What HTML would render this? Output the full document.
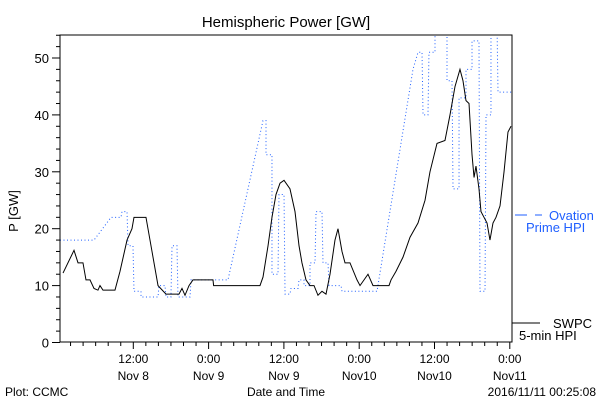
<!DOCTYPE html>
<html><head><meta charset="utf-8"><style>
body{margin:0;background:#fff;}
svg{display:block;font-family:"Liberation Sans",sans-serif;}
</style></head><body>
<svg id="chart" width="600" height="400" viewBox="0 0 600 400" xmlns="http://www.w3.org/2000/svg">
<rect width="600" height="400" fill="#fff"/>
<text x="286" y="27" font-size="15" text-anchor="middle">Hemispheric Power [GW]</text>
<text transform="translate(18,211) rotate(-90)" font-size="13" text-anchor="middle">P [GW]</text>
<text x="286" y="396" font-size="12" text-anchor="middle">Date and Time</text>
<text x="5" y="396" font-size="12">Plot: CCMC</text>
<text x="596" y="396" font-size="12" text-anchor="end">2016/11/11 00:25:08</text>
<g id="axes"></g>
<defs><clipPath id="pc"><rect x="60" y="35" width="452" height="307"/></clipPath></defs>
<g id="series" clip-path="url(#pc)"></g>
<rect x="60" y="35" width="452" height="307" fill="none" stroke="#000" stroke-width="1"/>
<g>
<line x1="515" y1="215" x2="527" y2="215" stroke="#1f5fff" stroke-width="1"/>
<line x1="535" y1="215" x2="542" y2="215" stroke="#1f5fff" stroke-width="1"/>
<text x="549" y="220" font-size="13" fill="#1f5fff">Ovation</text>
<text x="526" y="232" font-size="13" fill="#1f5fff">Prime HPI</text>
</g>
<g>
<line x1="512" y1="323" x2="540" y2="323" stroke="#000" stroke-width="1"/>
<text x="553" y="328" font-size="13">SWPC</text>
<text x="519" y="340" font-size="13">5-min HPI</text>
</g>
</svg>
<script>
const yTicks=[0,10,20,30,40,50];
const xTickHours=[12,24,36,48,60,72];
const xTickTime=["12:00","0:00","12:00","0:00","12:00","0:00"];
const xTickDate=["Nov 8","Nov 9","Nov 9","Nov10","Nov10","Nov11"];
const swpcHours=[0.8,2.55,3.19,3.98,4.46,5.1,5.74,6.37,6.69,7.17,9.08,9.88,11.0,11.79,12.11,14.02,14.98,15.94,17.21,19.28,19.76,20.24,20.88,21.51,22.63,24.7,24.8,32.19,32.67,33.47,34.1,34.74,35.38,36.02,36.97,37.77,38.41,38.88,39.52,40.16,40.8,41.43,42.07,42.71,43.35,44.14,44.62,45.26,45.74,46.53,47.65,48.13,49.4,50.2,52.75,53.07,53.86,54.98,56.1,57.37,58.49,59.28,60.4,61.67,62.47,63.27,64.06,64.54,65.02,65.5,65.98,66.3,66.61,67.09,67.41,67.89,68.37,68.84,69.32,69.8,70.44,71.08,71.71,72.19];
const swpcValues=[12.2,16.2,14,14,11,11,9.5,9.2,10,9.2,9.2,12.5,18,20,22,22,16,10,8.5,8.5,9.5,8.3,10,11,11,11,10,10,11.5,17,22,26,28,28.5,27,23,17,14,11,10,10,8.3,9,8.5,12,18,20,16,14,14,11,10,12,10,10,11,12.5,15,18.5,21,25,30,35,35.5,40,45,48,46,42.5,42,33,29,31,27,23,22,21,18,21,22,24,30,37,38];
const hpiHours=[0.32,5.74,8.45,10.04,10.2,11.0,11.16,11.95,12.11,13.23,13.23,15.94,16.1,17.05,17.21,18.0,18.17,18.96,19.12,21.04,21.2,27.09,32.67,33.15,33.15,34.1,34.1,35.06,35.22,36.02,36.18,36.97,37.13,38.25,38.41,39.2,39.2,40.16,40.16,40.96,41.12,42.07,42.23,43.03,43.19,45.1,45.26,50.84,56.57,57.37,58.01,58.17,58.96,59.12,60.08,60.08,61.99,61.99,62.79,62.95,63.91,63.91,65.02,65.02,65.98,65.98,67.09,67.25,68.05,68.21,69.0,69.0,69.96,70.12,72.35];
const hpiValues=[18,18,22,22,23,23,17,17,9,9,8,8,10,10,8,8,17,17,8,8,11,11,39,39,33,33,12,12,26,26,8.5,8.5,9.5,9.5,11,11,10,10,14,14,23,23,14,14,10,10,9,9,48,51,51,40,40,51,51,56,56,46,46,27,27,43,43,48,48,53,53,9,9,40,40,56,56,44,44];

const NS="http://www.w3.org/2000/svg";
const X=h=>58+h*6.275;
const Y=v=>342.5-v*5.69;
const axes=document.getElementById('axes');
const series=document.getElementById('series');
function mk(tag,parent){const e=document.createElementNS(NS,tag);parent.appendChild(e);return e;}
for(let v=0;v<=54;v+=2){
  const t=mk('line',axes);
  
  
  const len=v%10===0?8:4;
  t.setAttribute('x1',60-len);t.setAttribute('x2',60);
  t.setAttribute('y1',Y(v));t.setAttribute('y2',Y(v));t.setAttribute('stroke','#000');
}
yTicks.forEach(v=>{
  const t=mk('text',axes);
  
  
  t.setAttribute('x',49);t.setAttribute('y',Y(v)+5);t.setAttribute('text-anchor','end');t.setAttribute('font-size','13');
  t.textContent=v;
});
for(let h=2;h<=72;h+=2){
  const t=mk('line',axes);
  
  
  const len=h%12===0?7:4;
  t.setAttribute('x1',X(h));t.setAttribute('x2',X(h));
  t.setAttribute('y1',342);t.setAttribute('y2',342+len);t.setAttribute('stroke','#000');
}
xTickHours.forEach((h,i)=>{
  const a=mk('text',axes);
  
  
  a.setAttribute('x',X(h));a.setAttribute('y',363);a.setAttribute('text-anchor','middle');a.setAttribute('font-size','12');
  a.textContent=xTickTime[i];
  const b=mk('text',axes);
  
  
  b.setAttribute('x',X(h));b.setAttribute('y',380);b.setAttribute('text-anchor','middle');b.setAttribute('font-size','12');
  b.textContent=xTickDate[i];
});
const hp=mk('polyline',series);


hp.setAttribute('points',hpiHours.map((h,i)=>X(h)+','+Y(hpiValues[i])).join(' '));
hp.setAttribute('fill','none');hp.setAttribute('stroke','#1f5fff');hp.setAttribute('stroke-width','1');hp.setAttribute('stroke-dasharray','1,2.5');
const sw=mk('polyline',series);


sw.setAttribute('points',swpcHours.map((h,i)=>X(h)+','+Y(swpcValues[i])).join(' '));
sw.setAttribute('fill','none');sw.setAttribute('stroke','#000');sw.setAttribute('stroke-width','1');
</script>
</body></html>
